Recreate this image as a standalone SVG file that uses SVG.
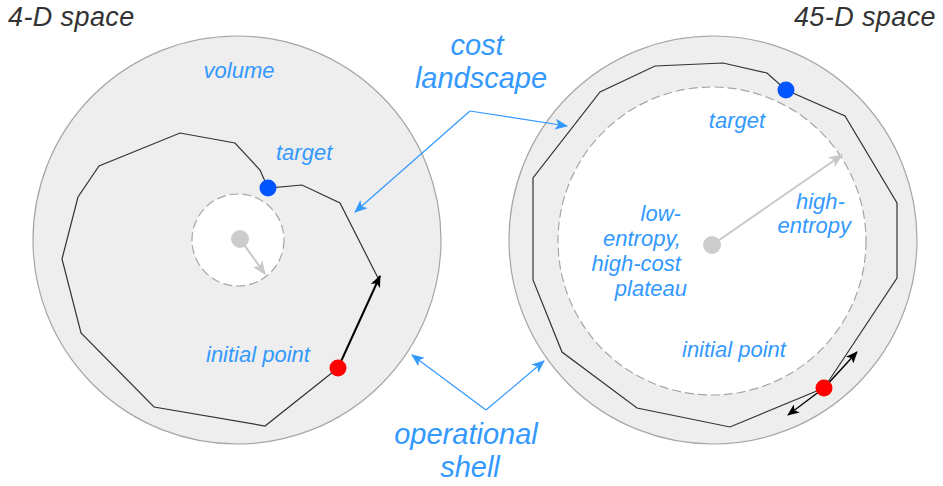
<svg xmlns="http://www.w3.org/2000/svg" width="943" height="486" viewBox="0 0 943 486">
  <style>
    .title { font-family: "Liberation Sans", Arial, sans-serif; font-style: italic; font-size: 27px; letter-spacing: 0.4px; fill: #333333; }
    .lbl { font-family: "Liberation Sans", Arial, sans-serif; font-style: italic; font-size: 22px; fill: #3399ff; }
    .big { font-family: "Liberation Sans", Arial, sans-serif; font-style: italic; font-size: 29px; fill: #3399ff; text-anchor: middle; }
    .space { fill: #eeeeee; stroke: #a6a6a6; stroke-width: 1.2; }
    .plateau { fill: #ffffff; stroke: #a6a6a6; stroke-width: 1.2; stroke-dasharray: 9 4; }
    .walk { fill: none; stroke: #333333; stroke-width: 1.2; stroke-linejoin: miter; }
    .step { fill: none; stroke: #000000; }
    .pointer { fill: none; stroke: #3399ff; stroke-width: 1.2; }
    .radius { fill: none; stroke: #c8c8c8; stroke-width: 2; }
  </style>
  <defs>
    <marker id="arrBlue" viewBox="0 0 12 10" refX="11" refY="5" markerWidth="13" markerHeight="11" markerUnits="userSpaceOnUse" orient="auto">
      <path d="M0,0 L12,5 L0,10 L3,5 Z" fill="#3399ff"/>
    </marker>
    <marker id="arrBlack" viewBox="0 0 12 10" refX="11" refY="5" markerWidth="12" markerHeight="10" markerUnits="userSpaceOnUse" orient="auto">
      <path d="M0,0 L12,5 L0,10 L3,5 Z" fill="#000000"/>
    </marker>
    <marker id="arrGray" viewBox="0 0 12 10" refX="11" refY="5" markerWidth="14" markerHeight="12" markerUnits="userSpaceOnUse" orient="auto">
      <path d="M0,0 L12,5 L0,10 L3,5 Z" fill="#c8c8c8"/>
    </marker>
  </defs>

  <!-- 4-D space -->
  <g id="space4d">
    <text class="title" x="8" y="26">4-D space</text>
    <circle class="space" cx="237" cy="240" r="204"/>
    <text class="lbl" x="239" y="78" text-anchor="middle">volume</text>
  </g>
  <g id="plateau4d">
    <circle class="plateau" cx="238" cy="240" r="46"/>
    <line class="radius" x1="240" y1="239" x2="265" y2="274" marker-end="url(#arrGray)"/>
    <circle cx="240" cy="239" r="9" fill="#cccccc"/>
  </g>
  <g id="walk4d">
    <polyline class="walk" points="338,368 265,426 154,407 81,333 62,259 78,197 99,166 180,133 235,143 260,170 268,188 302,185 340,203 378,278"/>
    <line class="step" x1="338" y1="368" x2="380" y2="276" stroke-width="2" marker-end="url(#arrBlack)"/>
  </g>
  <g id="target4d">
    <circle cx="268" cy="188" r="8.5" fill="#0055ff"/>
    <text class="lbl" x="276" y="160">target</text>
  </g>
  <g id="initial4d">
    <circle cx="338" cy="368" r="8.5" fill="#ff0000"/>
    <text class="lbl" x="206" y="362">initial point</text>
  </g>

  <!-- 45-D space -->
  <g id="space45d">
    <text class="title" x="936" y="26" text-anchor="end">45-D space</text>
    <circle class="space" cx="713" cy="240" r="204"/>
  </g>
  <g id="plateau45d">
    <circle class="plateau" cx="712" cy="241" r="154"/>
    <line class="radius" x1="712" y1="245" x2="842" y2="155" marker-end="url(#arrGray)"/>
    <circle cx="712" cy="245" r="9" fill="#cccccc"/>
    <text class="lbl" text-anchor="end">
      <tspan x="687" y="221">low-</tspan>
      <tspan x="687" y="246">entropy,</tspan>
      <tspan x="687" y="271">high-cost</tspan>
      <tspan x="687" y="296">plateau</tspan>
    </text>
    <text class="lbl" text-anchor="end">
      <tspan x="851" y="209">high-</tspan>
      <tspan x="851" y="233">entropy</tspan>
    </text>
  </g>
  <g id="walk45d">
    <polyline class="walk" points="824,388 730,427 637,408 562,352 533,280 533,178 600,92 655,66 723,63 767,73 786,90 845,116 897,203 897,278 848,352 824,388"/>
    <line class="step" x1="824" y1="388" x2="857" y2="352" stroke-width="1.4" marker-end="url(#arrBlack)"/>
    <line class="step" x1="824" y1="388" x2="788" y2="415" stroke-width="1.4" marker-end="url(#arrBlack)"/>
  </g>
  <g id="target45d">
    <circle cx="786" cy="90" r="8.5" fill="#0055ff"/>
    <text class="lbl" x="737" y="128" text-anchor="middle">target</text>
  </g>
  <g id="initial45d">
    <circle cx="824" cy="388" r="8.5" fill="#ff0000"/>
    <text class="lbl" x="682" y="357">initial point</text>
  </g>

  <!-- callout labels -->
  <g id="costLandscape">
    <text class="big">
      <tspan x="481" y="55">cost</tspan>
      <tspan x="481" y="88">landscape</tspan>
    </text>
  </g>
  <g id="operationalShell">
    <text class="big">
      <tspan x="470" y="444">operational</tspan>
      <tspan x="470" y="477">shell</tspan>
    </text>
  </g>

  <g id="connectors">
    <polyline class="pointer" points="470,111 355,212" marker-end="url(#arrBlue)"/>
    <polyline class="pointer" points="470,111 567,126" marker-end="url(#arrBlue)"/>
    <polyline class="pointer" points="486,410 412,355" marker-end="url(#arrBlue)"/>
    <polyline class="pointer" points="486,410 544,361" marker-end="url(#arrBlue)"/>
  </g>
</svg>
